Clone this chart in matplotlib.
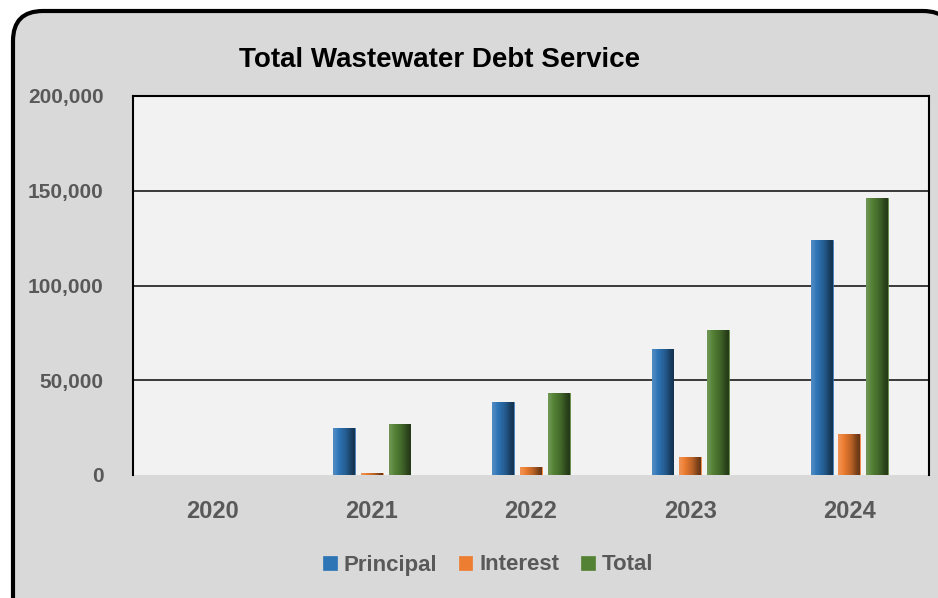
import numpy as np
import matplotlib
matplotlib.use("Agg")
import matplotlib.pyplot as plt
from matplotlib.patches import FancyBboxPatch
from matplotlib.colors import LinearSegmentedColormap
from matplotlib.ticker import FuncFormatter

years = ["2020", "2021", "2022", "2023", "2024"]
principal = [0, 25000, 38400, 66300, 124000]
interest = [0, 1000, 4200, 9700, 21600]
total = [0, 26800, 43100, 76500, 146300]
yticks = [0, 50000, 100000, 150000, 200000]

series = [("Principal", principal, "#2e75b6"),
          ("Interest", interest, "#ed7d31"),
          ("Total", total, "#548235")]

plt.rcParams['font.family'] = ['Liberation Sans', 'DejaVu Sans']

fig = plt.figure(figsize=(9.38, 5.98), dpi=100)
fig.patch.set_facecolor("white")

# rounded chart frame, runs off the right and bottom edges (display coords)
frame = FancyBboxPatch((13, -30), 940, 598 - 11 + 30,
                       boxstyle="round,pad=0,rounding_size=30",
                       transform=None, facecolor="#d9d9d9", edgecolor="black",
                       linewidth=3, zorder=-10)
fig.add_artist(frame)

ax = fig.add_axes([133 / 938, 123 / 598, 796 / 938, 379 / 598])
ax.set_facecolor("#f2f2f2")

x = np.arange(len(years))
w = 0.137
step = 0.174
for i, (name, vals, col) in enumerate(series):
    bars = ax.bar(x + (i - 1) * step, vals, w, color=col, label=name,
                  edgecolor=col, linewidth=0.5, zorder=3)
    shade = LinearSegmentedColormap.from_list(name, ["white", col, "black"])
    grad = np.array([[0.42, 0.5, 0.55, 0.6, 0.68, 0.78]])
    for b in bars:
        if b.get_height() <= 0:
            continue
        im = ax.imshow(grad, cmap=shade, vmin=0, vmax=1, aspect="auto",
                       extent=(b.get_x(), b.get_x() + b.get_width(), 0, b.get_height()),
                       zorder=3.5, interpolation="bicubic")
        im.set_clip_path(b)

ax.set_xlim(-0.5, len(years) - 0.5)
ax.set_ylim(0, 200000)
ax.set_yticks(yticks)
ax.yaxis.set_major_formatter(FuncFormatter(lambda v, p: f"{int(v):,}"))
ax.set_xticks(x)
ax.set_xticklabels(years)
for v in yticks[1:-1]:
    ax.axhline(v, color="#1a1a1a", linewidth=1.2, zorder=1)
ax.tick_params(axis="y", length=0, pad=21, labelsize=15, labelcolor="#595959")
ax.tick_params(axis="x", length=0, pad=18, labelsize=17, labelcolor="#595959")
for lab in ax.get_xticklabels() + ax.get_yticklabels():
    lab.set_fontweight("bold")
for s in ["left", "top", "right"]:
    ax.spines[s].set_color("black")
    ax.spines[s].set_linewidth(1.5)
ax.spines["bottom"].set_visible(False)

fig.text(440 / 938, 1 - 60 / 598, "Total Wastewater Debt Service", ha="center",
         va="center", fontsize=20, fontweight="bold", color="black")

leg = ax.legend(loc="center", bbox_to_anchor=(488 / 938, 1 - 565 / 598),
                bbox_transform=fig.transFigure, ncol=3, frameon=False,
                prop={"size": 16, "weight": "bold"}, handlelength=0.6,
                handleheight=0.6, handletextpad=0.3, columnspacing=1.0)
for t in leg.get_texts():
    t.set_color("#595959")

fig.savefig("out.png", dpi=100, facecolor=fig.get_facecolor())
